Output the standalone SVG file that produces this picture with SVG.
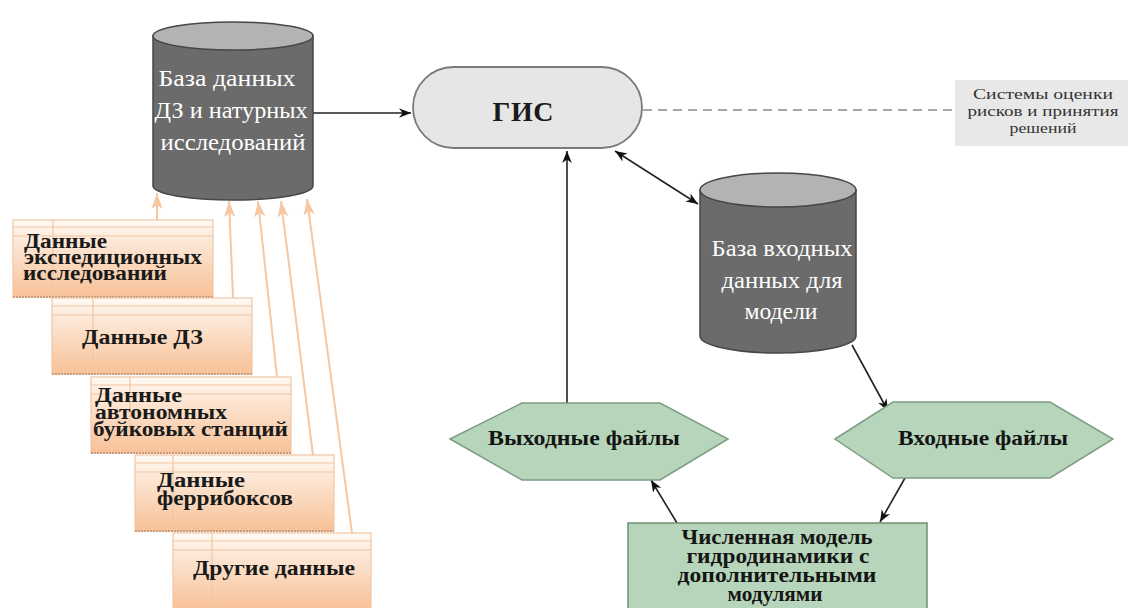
<svg xmlns="http://www.w3.org/2000/svg" width="1128" height="608" viewBox="0 0 1128 608">
  <style>
    .db-body { fill: #6b6b6b; stroke: #474747; stroke-width: 1.5; }
    .db-top { fill: #b3b3b3; stroke: #474747; stroke-width: 1.5; }
    .db-text { font-family: "Liberation Serif", "DejaVu Serif", serif; font-size: 24px; fill: #ffffff; text-anchor: middle; }
    .src-box { fill: url(#srcGrad); stroke: #f0c6a4; stroke-width: 1.2; }
    .src-line { stroke: #f0c6a4; stroke-width: 1.2; }
    .src-bottom { stroke: #c89c7c; stroke-width: 2; stroke-dasharray: 2 1; }
    .src-text { font-family: "Liberation Serif", serif; font-size: 20px; font-weight: bold; fill: #1a1a1a; }
    .hex { fill: #b6d5ba; stroke: #7f9c84; stroke-width: 1.5; }
    .green-text { font-family: "Liberation Serif", serif; font-size: 22px; font-weight: bold; fill: #151515; text-anchor: middle; }
    .model-text { font-family: "Liberation Serif", serif; font-size: 20px; font-weight: bold; fill: #151515; text-anchor: middle; }
    .feed { stroke: #f5c7a3; stroke-width: 2; fill: none; marker-end: url(#arrowOrange); }
    .link { stroke: #222222; stroke-width: 1.6; fill: none; }
  </style>
  <defs>
    <linearGradient id="srcGrad" x1="0" y1="0" x2="0" y2="1">
      <stop offset="0" stop-color="#fffaf5"/>
      <stop offset="0.22" stop-color="#fdebdc"/>
      <stop offset="1" stop-color="#f7c197"/>
    </linearGradient>
    <marker id="arrowBlack" viewBox="0 0 10 10" refX="10" refY="5" markerWidth="12" markerHeight="12" markerUnits="userSpaceOnUse" orient="auto-start-reverse">
      <path d="M0,1 L10,5 L0,9 L3,5 Z" fill="#111111"/>
    </marker>
    <marker id="arrowOrange" viewBox="0 0 10 10" refX="10" refY="5" markerWidth="16" markerHeight="16" markerUnits="userSpaceOnUse" orient="auto">
      <path d="M0,1.5 L10,5 L0,8.5 L2.5,5 Z" fill="#f5c7a3"/>
    </marker>
  </defs>

  <rect width="1128" height="608" fill="#ffffff"/>

  <!-- connectors -->
  <g id="connectors">
    <!-- source data feeds into the survey database -->
    <line class="feed" x1="157" y1="220" x2="157" y2="193"/>
    <line class="feed" x1="233" y1="298" x2="229" y2="201"/>
    <line class="feed" x1="277" y1="377" x2="258" y2="201"/>
    <line class="feed" x1="313" y1="455" x2="281" y2="201"/>
    <line class="feed" x1="352" y1="533" x2="307" y2="199"/>
    <!-- database to GIS -->
    <line class="link" x1="313" y1="113" x2="411" y2="113" marker-end="url(#arrowBlack)"/>
    <!-- GIS to decision systems -->
    <line x1="643" y1="110" x2="955" y2="110" stroke="#8a8a8a" stroke-width="1.5" stroke-dasharray="9 6"/>
    <!-- GIS to model input database (both ways) -->
    <line class="link" x1="615" y1="151" x2="698" y2="204" marker-start="url(#arrowBlack)" marker-end="url(#arrowBlack)"/>
    <!-- output files to GIS -->
    <line class="link" x1="567" y1="418" x2="567" y2="151" marker-end="url(#arrowBlack)"/>
    <!-- input database to input files -->
    <line class="link" x1="852" y1="345" x2="888" y2="411" marker-end="url(#arrowBlack)"/>
    <!-- input files to model -->
    <line class="link" x1="905" y1="478" x2="880" y2="522" marker-end="url(#arrowBlack)"/>
    <!-- model to output files -->
    <line class="link" x1="677" y1="523" x2="651" y2="480" marker-end="url(#arrowBlack)"/>
  </g>

  <!-- survey and remote sensing database -->
  <g id="db-survey">
    <path class="db-body" d="M153,36 L153,186 A80,14 0 0 0 313,186 L313,36 Z"/>
    <ellipse class="db-top" cx="233" cy="36" rx="80" ry="14"/>
    <text class="db-text" x="227" y="86" textLength="137" lengthAdjust="spacingAndGlyphs">База данных</text>
    <text class="db-text" x="231" y="118" textLength="153" lengthAdjust="spacingAndGlyphs">ДЗ и натурных</text>
    <text class="db-text" x="233" y="150" textLength="145" lengthAdjust="spacingAndGlyphs">исследований</text>
  </g>

  <!-- GIS -->
  <g id="gis">
    <rect x="413" y="67" width="229" height="81" rx="40.5" ry="40.5" fill="#e6e6e6" stroke="#7a7a7a" stroke-width="1.8"/>
    <text x="523" y="121" font-family="Liberation Serif, serif" font-size="28" font-weight="bold" fill="#1a1a1a" text-anchor="middle" textLength="61" lengthAdjust="spacing">ГИС</text>
  </g>

  <!-- risk assessment and decision systems -->
  <g id="decision-systems">
    <rect x="955" y="80" width="173" height="66" fill="#e8e8e8"/>
    <g font-family="Liberation Serif, serif" font-size="15" fill="#333333" text-anchor="middle">
      <text x="1043" y="99" textLength="140" lengthAdjust="spacingAndGlyphs">Системы оценки</text>
      <text x="1043" y="116" textLength="151" lengthAdjust="spacingAndGlyphs">рисков и принятия</text>
      <text x="1043" y="133" textLength="67" lengthAdjust="spacingAndGlyphs">решений</text>
    </g>
  </g>

  <!-- model input database -->
  <g id="db-input">
    <path class="db-body" d="M700,190 L700,336 A78,17 0 0 0 856,336 L856,190 Z"/>
    <ellipse class="db-top" cx="778" cy="190" rx="78" ry="17"/>
    <text class="db-text" x="782" y="256" textLength="141" lengthAdjust="spacingAndGlyphs">База входных</text>
    <text class="db-text" x="782" y="288" textLength="121" lengthAdjust="spacingAndGlyphs">данных для</text>
    <text class="db-text" x="781" y="319" textLength="73" lengthAdjust="spacingAndGlyphs">модели</text>
  </g>

  <!-- source data tables -->
  <g id="src-expedition">
    <rect class="src-box" x="13" y="220" width="200" height="77"/>
    <line class="src-line" x1="13" y1="227" x2="213" y2="227"/>
    <line class="src-line" x1="13" y1="236" x2="213" y2="236"/>
    <line class="src-line" x1="53" y1="220" x2="53" y2="297"/>
    <line class="src-bottom" x1="13" y1="297" x2="213" y2="297"/>
    <text class="src-text" x="24" y="248" textLength="83" lengthAdjust="spacingAndGlyphs">Данные</text>
    <text class="src-text" x="24" y="264" textLength="178" lengthAdjust="spacingAndGlyphs">экспедиционных</text>
    <text class="src-text" x="23" y="280" textLength="144" lengthAdjust="spacingAndGlyphs">исследований</text>
  </g>

  <g id="src-remote-sensing">
    <rect class="src-box" x="52" y="298" width="200" height="76"/>
    <line class="src-line" x1="52" y1="306" x2="252" y2="306"/>
    <line class="src-line" x1="52" y1="315" x2="252" y2="315"/>
    <line class="src-line" x1="93" y1="298" x2="93" y2="374"/>
    <line class="src-bottom" x1="52" y1="374" x2="252" y2="374"/>
    <text class="src-text" x="82" y="344" style="font-size:22px" textLength="121" lengthAdjust="spacingAndGlyphs">Данные ДЗ</text>
  </g>

  <g id="src-buoys">
    <rect class="src-box" x="91" y="377" width="200" height="76"/>
    <line class="src-line" x1="91" y1="385" x2="291" y2="385"/>
    <line class="src-line" x1="91" y1="394" x2="291" y2="394"/>
    <line class="src-line" x1="130" y1="377" x2="130" y2="453"/>
    <line class="src-bottom" x1="91" y1="453" x2="291" y2="453"/>
    <text class="src-text" x="95" y="402" textLength="87" lengthAdjust="spacingAndGlyphs">Данные</text>
    <text class="src-text" x="95" y="419" textLength="132" lengthAdjust="spacingAndGlyphs">автономных</text>
    <text class="src-text" x="93" y="436" textLength="195" lengthAdjust="spacingAndGlyphs">буйковых станций</text>
  </g>

  <g id="src-ferrybox">
    <rect class="src-box" x="135" y="455" width="199" height="76"/>
    <line class="src-line" x1="135" y1="463" x2="334" y2="463"/>
    <line class="src-line" x1="135" y1="472" x2="334" y2="472"/>
    <line class="src-line" x1="173" y1="455" x2="173" y2="531"/>
    <line class="src-bottom" x1="135" y1="531" x2="334" y2="531"/>
    <text class="src-text" x="157" y="487" textLength="88" lengthAdjust="spacingAndGlyphs">Данные</text>
    <text class="src-text" x="157" y="505" textLength="136" lengthAdjust="spacingAndGlyphs">феррибоксов</text>
  </g>

  <g id="src-other">
    <rect class="src-box" x="173" y="533" width="198" height="76"/>
    <line class="src-line" x1="173" y1="541" x2="371" y2="541"/>
    <line class="src-line" x1="173" y1="550" x2="371" y2="550"/>
    <line class="src-line" x1="212" y1="533" x2="212" y2="609"/>
    <text class="src-text" x="193" y="575" style="font-size:22px" textLength="162" lengthAdjust="spacingAndGlyphs">Другие данные</text>
  </g>

  <!-- output files -->
  <g id="output-files">
    <polygon class="hex" points="450,439 522,403 660,403 728,439 660,480 522,480"/>
    <text class="green-text" x="584" y="445" textLength="192" lengthAdjust="spacingAndGlyphs">Выходные файлы</text>
  </g>

  <!-- input files -->
  <g id="input-files">
    <polygon class="hex" points="835,439 893,402 1050,402 1113,439 1050,478 893,478"/>
    <text class="green-text" x="983" y="445" textLength="170" lengthAdjust="spacingAndGlyphs">Входные файлы</text>
  </g>

  <!-- numerical hydrodynamic model -->
  <g id="model">
    <rect x="628" y="523" width="299" height="90" fill="#b6d5ba" stroke="#6f8f75" stroke-width="1.5"/>
    <text class="model-text" x="777" y="544" textLength="191" lengthAdjust="spacingAndGlyphs">Численная модель</text>
    <text class="model-text" x="778" y="563" textLength="183" lengthAdjust="spacingAndGlyphs">гидродинамики с</text>
    <text class="model-text" x="777" y="582" textLength="199" lengthAdjust="spacingAndGlyphs">дополнительными</text>
    <text class="model-text" x="775" y="601" textLength="95" lengthAdjust="spacingAndGlyphs">модулями</text>
  </g>
</svg>
